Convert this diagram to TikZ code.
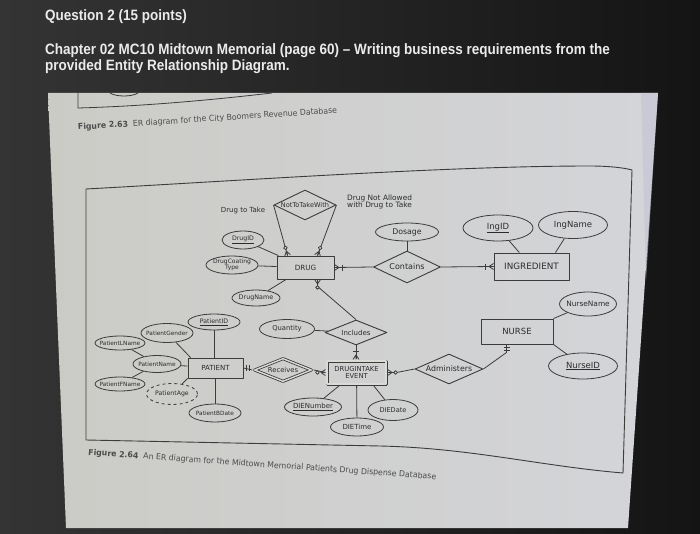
\documentclass[tikz,border=0pt]{standalone}
\usepackage{fontspec}
\setmainfont{Liberation Sans}
\newfontfamily\titlef[FakeStretch=0.9]{Liberation Sans}
\newfontfamily\dv{DejaVu Sans}
\newfontfamily\capf[FakeStretch=0.95]{DejaVu Sans}
\usetikzlibrary{shapes.geometric,calc}
\definecolor{bgA}{HTML}{343434}
\definecolor{bgB}{HTML}{141414}
\definecolor{paperA}{HTML}{CBCBC6}
\definecolor{paperB}{HTML}{DCDCD8}
\definecolor{paperC}{HTML}{D4D5D9}
\definecolor{ink}{HTML}{3C3C3C}
\definecolor{txt}{HTML}{2C2C2C}
\definecolor{ringfill}{HTML}{DADAD6}
\newcommand{\zb}[1]{\makebox[0pt]{#1}}
\newcommand{\fs}[1]{\fontsize{#1}{#1}\selectfont}
\tikzset{
  wh/.style 2 args={minimum width=#1pt, minimum height=#2pt},
  ent/.style={draw=ink, line width=0.9pt, rectangle, inner sep=1pt, text=txt, font=\dv\fs{7.2}},
  attr/.style={draw=ink, line width=0.8pt, ellipse, inner sep=0pt, text=txt, font=\dv\fs{6.2}},
  rel/.style={draw=ink, line width=0.9pt, diamond, inner sep=0pt, text=txt, font=\dv\fs{7}},
  dbl/.style={double=ringfill, double distance=1.4pt, line width=0.8pt, outer sep=1.6pt},
  ln/.style={draw=ink, line width=0.8pt},
  mk/.style={draw=ink, line width=0.8pt},
  lbl/.style={inner sep=0pt, text=txt, font=\dv\fs{7}},
  ttl/.style={anchor=base west, inner sep=0pt, text=white!92!black, font=\titlef\bfseries\fs{15}},
  capt/.style={anchor=base west, inner sep=0pt, text=txt!85!white, font=\capf\fs{8.2}},
  crow/.pic={\draw[mk] (0,0) -- (4.5,0) (0,-3) -- (4.5,0) -- (0,3);},
  ringm/.pic={\draw[mk,fill=ringfill] (#1,0) circle[radius=1.8pt];},
  barm/.pic={\draw[mk] (#1,-3) -- (#1,3);}
}
\begin{document}
\begin{tikzpicture}[x=1pt,y=-1pt,line join=round]
\useasboundingbox (0,0) rectangle (700,534);
% background
\shade[left color=bgA, right color=bgB] (0,0) rectangle (700,534);
% paper
\shade[left color=paperA, middle color=paperB, right color=paperC]
  (48,93) -- (658,93) -- (628,528) -- (66,528) -- cycle;
\fill[blue!15!gray!40!white, opacity=0.6] (641,93) -- (658,93) -- (646,280) -- cycle;
% titles
\node[ttl] (q) at (45,21) {Question 2 (15 points)};
\node[ttl] (c1) at (45,55) {Chapter 02 MC10 Midtown Memorial (page 60) – Writing business requirements from the};
\node[ttl] (c2) at (45,71) {provided Entity Relationship Diagram.};
% remnant of previous figure
\draw[ink, line width=0.8pt] (78,93) -- (78,108) .. controls (150,106) and (220,99) .. (272,93);
\draw[ink, line width=0.8pt] (110,93) .. controls (116,97) and (132,97) .. (138,93);
\node[capt, rotate=3.7] (cap63) at (78,130) {\textbf{Figure 2.63}\ \ ER diagram for the City Boomers Revenue Database};
% frame
\draw[ink, line width=0.9pt] (86,189) .. controls (250,180) and (450,166) .. (590,166)
  .. controls (610,166) and (625,168) .. (632,170) -- (623,473)
  .. controls (540,466) and (470,448) .. (380,446) -- (86,440) -- cycle;
\node[capt, rotate=-4] (cap64) at (88,455) {\textbf{Figure 2.64}\ \ An ER diagram for the Midtown Memorial Patients Drug Dispense Database};

% entities
\node[ent, wh={57}{23}] (drug) at (305.5,267.5) {DRUG};
\node[ent, wh={75}{27}, font=\dv\fs{8.8}] (ingr) at (531.5,266.5) {INGREDIENT};
\node[ent, wh={72}{25}, font=\dv\fs{8.5}] (nurse) at (517,331.5) {NURSE};
\node[ent, wh={55}{20}, font=\dv\fs{7}] (patient) at (215.5,368) {PATIENT};
\node[ent, dbl, wh={59}{23}, font=\dv\fs{6.8}, align=center] (die) at (356.5,372.5) {DRUGINTAKE\\[0.5pt]EVENT};

% relationships
\node[rel, wh={62}{30}, font=\dv\fs{6.6}] (nott) at (305,205) {\zb{NotToTakeWith}};
\node[rel, wh={67}{32}, font=\dv\fs{8}] (contains) at (407,267) {\zb{Contains}};
\node[rel, wh={62}{25}] (includes) at (356,332.5) {\zb{Includes}};
\node[rel, dbl, wh={58}{24}, font=\dv\fs{6.8}] (receives) at (283,370) {\zb{Receives}};
\node[rel, wh={68}{30}, font=\dv\fs{7.8}] (admin) at (449,369) {\zb{Administers}};

% attributes
\node[attr, wh={42}{18}] (drugid) at (243,240) {\zb{\underline{DrugID}}};
\node[attr, wh={52}{18}, font=\dv\fs{6}] (dct) at (232,265) {\zb{\begin{tabular}{@{}c@{}}DrugCoating\\[-0.8pt]Type\end{tabular}}};
\node[attr, wh={48}{16}, font=\dv\fs{6.4}] (drugname) at (256,298) {\zb{DrugName}};
\node[attr, wh={63}{18}, font=\dv\fs{7.8}] (dosage) at (407,232) {\zb{Dosage}};
\node[attr, wh={70}{26}, font=\dv\fs{8.5}] (ingid) at (498,228) {\zb{\underline{IngID}}};
\node[attr, wh={69}{27}, font=\dv\fs{8.5}] (ingname) at (573,225) {\zb{IngName}};
\node[attr, wh={57}{24}, font=\dv\fs{7.4}] (nursename) at (588,304) {\zb{NurseName}};
\node[attr, wh={69}{26}, font=\dv\fs{8.5}] (nurseid) at (583,366) {\zb{\underline{NurseID}}};
\node[attr, wh={55}{19}, font=\dv\fs{6.8}] (quantity) at (287,329) {\zb{Quantity}};
\node[attr, wh={57}{18}, font=\dv\fs{7}] (dienum) at (313,407) {\zb{\underline{DIENumber}}};
\node[attr, wh={53}{18}, font=\dv\fs{7}] (dietime) at (357,427) {\zb{DIETime}};
\node[attr, wh={50}{21}, font=\dv\fs{6.6}] (diedate) at (393,410) {\zb{DIEDate}};
\node[attr, wh={52}{16}] (patid) at (214,322) {\zb{\underline{PatientID}}};
\node[attr, wh={52}{19}, font=\dv\fs{5.8}] (patgender) at (167,333) {\zb{PatientGender}};
\node[attr, wh={50}{14}, font=\dv\fs{5.8}] (patlname) at (120,343) {\zb{PatientLName}};
\node[attr, wh={48}{17}, font=\dv\fs{5.8}] (patname) at (157,364) {\zb{PatientName}};
\node[attr, wh={50}{14}, font=\dv\fs{5.8}] (patfname) at (120,384) {\zb{PatientFName}};
\node[attr, dashed, wh={51}{21}] (patage) at (172,394) {\zb{PatientAge}};
\node[attr, wh={52}{18}, font=\dv\fs{5.8}] (patbdate) at (215,413) {\zb{PatientBDate}};

% free labels
\node[lbl] (l1) at (243,211) {Drug to Take};
\node[lbl, anchor=west, align=left, font=\dv\fs{7.4}] (l2) at (347,202) {Drug Not Allowed\\with Drug to Take};

% helper coordinates
\coordinate (d1) at ($(drug.north west)+(11,0)$);
\coordinate (d2) at ($(drug.north west)+(41,0)$);
\coordinate (d3) at ($(drug.south west)+(41,0)$);
\coordinate (n1) at ($(nurse.south west)+(26,0)$);
\coordinate (i1) at ($(ingr.north east)+(-14,0)$);
\coordinate (e1) at ($(die.south west)+(14,0)$);
\coordinate (e2) at ($(die.south east)+(-14,0)$);
\coordinate (p1) at ($(patient.north west)+(3,0)$);

% attribute links
\draw[ln] (drugid) -- (drug);
\draw[ln] (dct) -- (drug);
\draw[ln] (drugname) -- (drug);
\draw[ln] (dosage) -- (contains);
\draw[ln] (ingid) -- (ingr);
\draw[ln] (ingname) -- (i1);
\draw[ln] (nursename) -- (nurse.north east);
\draw[ln] (nurseid) -- (nurse.south east);
\draw[ln] (quantity) -- (includes);
\draw[ln] (dienum) -- (e1);
\draw[ln] (dietime) -- (die);
\draw[ln] (diedate) -- (e2);
\draw[ln] (patid) -- (patid|-patient.north);
\draw[ln] (patgender) -- (p1);
\draw[ln] (patname) -- (patient);
\draw[ln] (patlname) -- (patname);
\draw[ln] (patfname) -- (patname);
\draw[ln] (patage) -- (patient.south west);
\draw[ln] (patbdate) -- (patbdate|-patient.south);

% relationship links
\draw[ln] (nott.west) -- (d1);
\draw[ln] (nott.east) -- (d2);
\draw[ln] (drug.east) -- (contains.west);
\draw[ln] (contains.east) -- (ingr.west);
\draw[ln] (d3) -- ++(0,7) -- (includes.north);
\draw[ln] (includes.south) -- (includes.south|-die.north);
\draw[ln] (patient.east) -- (receives.west);
\draw[ln] (receives.east) -- (die.west);
\draw[ln] (die.east) -- ++(9,0) -- (admin.west);
\draw[ln] (n1) -- ++(0,8) -- (admin.east);

% cardinality marks
\pic[rotate=105] at (d1) {crow}; \pic[rotate=105] at (d1) {ringm=8};
\pic[rotate=71] at (d2) {crow}; \pic[rotate=71] at (d2) {ringm=8};
\pic at (drug.east) {crow}; \pic at (drug.east) {barm=8};
\pic[rotate=180] at (ingr.west) {crow}; \pic[rotate=180] at (ingr.west) {barm=8};
\pic[rotate=-90] at (d3) {crow}; \pic[rotate=-90] at (d3) {ringm=8};
\pic[rotate=90] at (includes.south|-die.north) {crow}; \pic[rotate=90] at (includes.south|-die.north) {barm=8};
\pic[rotate=180] at (die.west) {crow}; \pic[rotate=180] at (die.west) {ringm=8};
\pic at (die.east) {crow}; \pic at (die.east) {ringm=8};
\pic[rotate=-90] at (n1) {barm=3}; \pic[rotate=-90] at (n1) {barm=6};
\pic at (patient.east) {barm=3}; \pic at (patient.east) {barm=6};
\end{tikzpicture}
\end{document}
